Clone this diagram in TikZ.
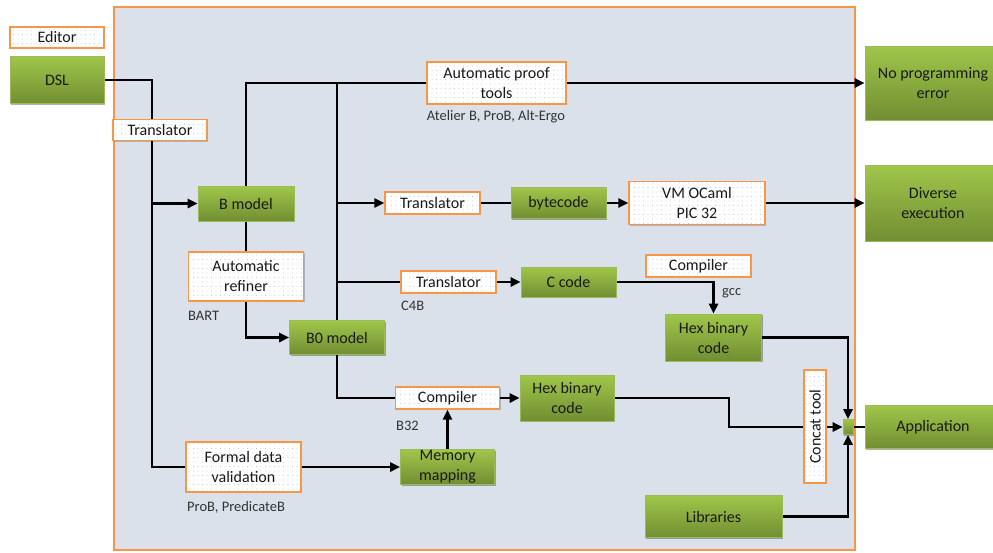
\documentclass[tikz,border=0pt]{standalone}
\usepackage{fontspec}
\setmainfont{Carlito}
\usetikzlibrary{arrows.meta,shadows,patterns.meta}
\definecolor{orng}{RGB}{247,150,70}
\definecolor{bgc}{RGB}{218,225,235}
\definecolor{gtop}{RGB}{160,198,74}
\definecolor{gbot}{RGB}{113,142,50}
\definecolor{gbrd}{RGB}{155,187,89}
\definecolor{dotc}{RGB}{150,175,215}
\definecolor{txt}{RGB}{25,25,25}
\tikzdeclarepattern{name=sdots, type=uncolored,
  bounding box={(-2.25pt,-2.25pt) and (2.25pt,2.25pt)},
  tile size={(4.5pt,4.5pt)},
  code={\pgfpathcircle{\pgfpointorigin}{0.45pt}\pgfusepath{fill}}}
\pgfdeclarelayer{bg}
\pgfdeclarelayer{lines}
\pgfsetlayers{bg,lines,main}
\begin{document}
\begin{tikzpicture}[x=1pt,y=-1pt, font=\fontsize{16}{20}\selectfont, text=txt,
  gbox/.style={drop shadow={shadow xshift=1.3pt,shadow yshift=-1.3pt,opacity=0.3,fill=black},
    draw=gbrd, line width=0.6pt, top color=gtop, bottom color=gbot, align=center, inner sep=0pt},
  dbox/.style={drop shadow={shadow xshift=1pt,shadow yshift=-1pt,opacity=0.2,fill=black},
    preaction={fill=white}, draw=orng, line width=1.4pt, pattern=sdots, pattern color=dotc,
    align=center, inner sep=0pt},
  lbl/.style={font=\fontsize{14.5}{16}\selectfont, text=black!80, inner sep=0pt},
  conn/.style={line width=2.6pt, black},
  arr/.style={conn, -{Triangle[length=10pt,width=9pt]}}]
\useasboundingbox (0,0) rectangle (993,552);
\begin{pgfonlayer}{bg}
\draw[orng, line width=1.5pt, fill=bgc] (114,7) rectangle (855,550);
\end{pgfonlayer}

\node[dbox, minimum width=94pt, minimum height=21pt] (editor) at (57,37.5) {Editor};
\node[gbox, minimum width=94pt, minimum height=47pt] (dsl) at (57,80) {DSL};
\node[dbox, minimum width=94pt, minimum height=21pt] (tr1) at (160,130) {Translator};
\node[gbox, minimum width=96pt, minimum height=35pt] (bm) at (246,203.5) {B model};
\node[dbox, minimum width=115pt, minimum height=49pt] (ref) at (246,276.5) {Automatic\\refiner};
\node[lbl, anchor=west] (bart) at (188,316) {BART};
\node[gbox, minimum width=95pt, minimum height=34pt] (b0) at (337,337.5) {B0 model};
\node[dbox, minimum width=139pt, minimum height=42pt] (proof) at (496.5,83) {Automatic proof\\tools};
\node[lbl] (proofl) at (496,117) {Atelier B, ProB, Alt-Ergo};
\node[dbox, minimum width=95pt, minimum height=22pt] (tr2) at (432.5,203) {Translator};
\node[gbox, minimum width=95pt, minimum height=31pt] (byte) at (558.5,203) {bytecode};
\node[dbox, minimum width=136pt, minimum height=43pt] (vm) at (697,203) {VM OCaml\\PIC 32};
\node[gbox, minimum width=136pt, minimum height=76pt] (div) at (933,203) {Diverse\\execution};
\node[gbox, minimum width=136pt, minimum height=74pt] (nope) at (933,83) {No programming\\error};
\node[dbox, minimum width=95pt, minimum height=22pt] (tr3) at (448.5,282) {Translator};
\node[lbl, anchor=west] (c4b) at (401,306) {C4B};
\node[gbox, minimum width=95pt, minimum height=30pt] (cc) at (568.5,282) {C code};
\node[dbox, minimum width=105pt, minimum height=22pt] (comp2) at (698.5,266) {Compiler};
\node[lbl, anchor=west] (gcc) at (722,293) {gcc};
\node[gbox, minimum width=96pt, minimum height=47pt] (hex2) at (713.5,337.5) {Hex binary\\code};
\node[dbox, minimum width=104pt, minimum height=22pt] (comp1) at (447.5,398) {Compiler};
\node[lbl, anchor=west] (b32) at (396,426) {B32};
\node[gbox, minimum width=94pt, minimum height=46pt] (hex1) at (567,398) {Hex binary\\code};
\node[dbox, minimum width=115pt, minimum height=50pt] (formal) at (243.5,467) {Formal data\\validation};
\node[lbl, anchor=west] (pp) at (187,507) {ProB, PredicateB};
\node[gbox, minimum width=94pt, minimum height=35pt] (mem) at (447.5,467) {Memory\\mapping};
\node[dbox, rotate=90, minimum width=113pt, minimum height=22pt] (concat) at (815,426.5) {Concat tool};
\node[gbox, minimum width=10pt, minimum height=15pt] (sq) at (848,427) {};
\node[gbox, minimum width=137pt, minimum height=42pt] (libs) at (713.5,516.5) {Libraries};
\node[gbox, minimum width=136pt, minimum height=43pt] (app) at (933,427) {Application};

\begin{pgfonlayer}{lines}
\coordinate (ja) at (152,80);
\coordinate (jb) at (152,467);
\coordinate (jc) at (152,203.5);
\coordinate (je) at (337,83);
\coordinate (jf) at (337,203);
\coordinate (jg) at (337,282);
\coordinate (jh) at (729,398);
\coordinate (ji) at (729,427);
\draw[conn] (dsl.east) -- (ja) -- (jb) -- (formal.west);
\draw[arr] (jc) -- (bm.west);
\draw[arr] (bm.north) |- (nope.west);
\draw[conn] (je) -- (b0.north);
\draw[arr] (jf) -- (tr2.west);
\draw[conn] (tr2.east) -- (byte.west);
\draw[arr] (byte.east) -- (vm.west);
\draw[arr] (vm.east) -- (div.west);
\draw[conn] (jg) -- (tr3.west);
\draw[arr] (tr3.east) -- (cc.west);
\draw[arr] (cc.east) -| (hex2.north);
\draw[conn] (bm.south) -- (ref.north);
\draw[arr] (ref.south) |- (b0.west);
\draw[conn] (b0.south) |- (comp1.west);
\draw[arr] (comp1.east) -- (hex1.west);
\draw[arr] (formal.east) -- (mem.west);
\draw[arr] (mem.north) -- (comp1.south);
\draw[arr] (hex2.east) -| (sq.north);
\draw[arr] (hex1.east) -- (jh) -- (ji) -- (sq.west);
\draw[arr] (libs.east) -| (sq.south);
\draw[conn] (sq.east) -- (app.west);
\end{pgfonlayer}
\end{tikzpicture}
\end{document}
